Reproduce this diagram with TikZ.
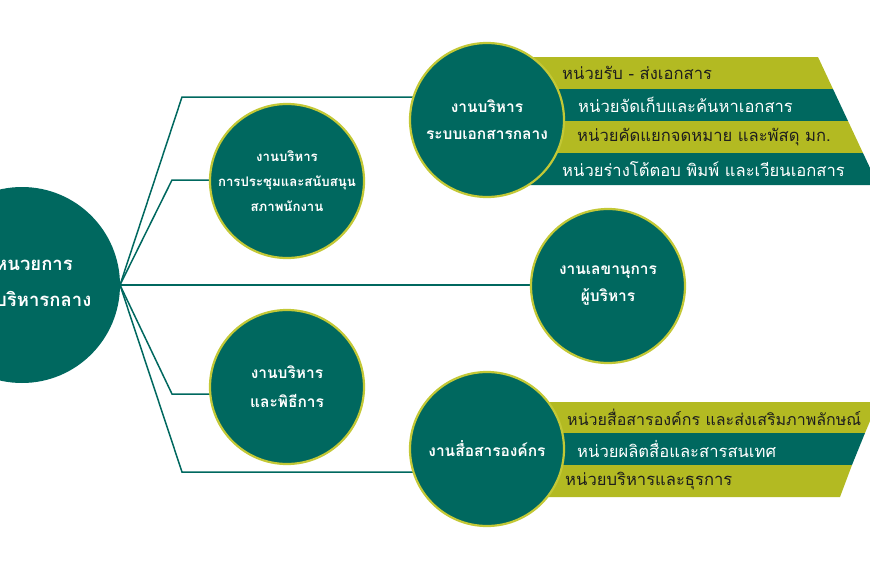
\documentclass[tikz,border=0pt]{standalone}
\usepackage{fontspec}
\newfontfamily\thai[Script=Thai]{Loma}
\definecolor{teal1}{HTML}{00685F}
\definecolor{olive1}{HTML}{B3BA22}
\definecolor{rim}{HTML}{C3C836}
\definecolor{ink}{HTML}{1E1E1E}
\begin{document}
\begin{tikzpicture}[x=1pt,y=-1pt,
  sub/.style={circle, fill=teal1, draw=rim, line width=2.2pt, minimum size=154pt, inner sep=0pt,
    text=white, align=center, font=\thai\fontsize{15.5}{27}\selectfont\bfseries},
  link/.style={draw=teal1, line width=1.5pt},
  bandO/.style={fill=olive1},
  bandT/.style={fill=teal1},
  tO/.style={anchor=west, inner sep=0pt, text=ink, font=\thai\fontsize{16.6}{18}\selectfont},
  tT/.style={anchor=west, inner sep=0pt, text=white, font=\thai\fontsize{16.6}{18}\selectfont}]
\useasboundingbox (0,0) rectangle (870,570);
\clip (0,0) rectangle (870,570);
% coordinates
\coordinate (hub) at (120,285);
\coordinate (b1) at (182,97);
\coordinate (b2) at (172,180);
\coordinate (b4) at (172,394);
\coordinate (b5) at (182,472);
\coordinate (p1) at (487,120);
\coordinate (p2) at (287,181);
\coordinate (p3) at (608,286);
\coordinate (p4) at (287,387);
\coordinate (p5) at (487,449);
% connectors
\draw[link] (hub) -- (b1) -- (b1 -| p1);
\draw[link] (hub) -- (b2) -- (b2 -| p2);
\draw[link] (hub) -- (hub -| p3);
\draw[link] (hub) -- (b4) -- (b4 -| p4);
\draw[link] (hub) -- (b5) -- (b5 -| p5);
% top bands
\fill[bandO] (487,57) -- (818,57) -- (833,89) -- (487,89) -- cycle;
\fill[bandT] (487,89) -- (833,89) -- (848,121) -- (487,121) -- cycle;
\fill[bandO] (487,121) -- (848,121) -- (863,153) -- (487,153) -- cycle;
\fill[bandT] (487,153) -- (863,153) -- (878,185) -- (487,185) -- cycle;
% bottom bands
\fill[bandO] (487,402) -- (878,402) -- (865,433) -- (487,433) -- cycle;
\fill[bandT] (487,433) -- (865,433) -- (852,465) -- (487,465) -- cycle;
\fill[bandO] (487,465) -- (852,465) -- (840,497) -- (487,497) -- cycle;
% band texts
\node[tO] (t11) at (562,73) {หน่วยรับ - ส่งเอกสาร};
\node[tT] (t12) at (578,105) {หน่วยจัดเก็บและค้นหาเอกสาร};
\node[tO] (t13) at (577,137) {หน่วยคัดแยกจดหมาย และพัสดุ มก.};
\node[tT] (t14) at (562,169) {หน่วยร่างโต้ตอบ พิมพ์ และเวียนเอกสาร};
\node[tO, font=\thai\fontsize{16}{18}\selectfont] (t51) at (567,417) {หน่วยสื่อสารองค์กร และส่งเสริมภาพลักษณ์};
\node[tT] (t52) at (577,449) {หน่วยผลิตสื่อและสารสนเทศ};
\node[tO] (t53) at (565,481) {หน่วยบริหารและธุรการ};
% circles
\node[circle, fill=teal1, minimum size=196pt, inner sep=0pt] (main) at (22,285) {};
\node[anchor=west, inner sep=0pt, text=white, align=left,
  font=\thai\fontsize{18.5}{36}\selectfont\bfseries] (mtext) at (-5,283) {หนวยการ\\บริหารกลาง};
\node[sub] (c1) at (p1) {งานบริหาร\\ระบบเอกสารกลาง};
\node[sub, font=\thai\fontsize{13.2}{25}\selectfont\bfseries] (c2) at (p2) {งานบริหาร\\การประชุมและสนับสนุน\\สภาพนักงาน};
\node[sub] (c3) at (p3) {งานเลขานุการ\\ผู้บริหาร};
\node[sub, font=\thai\fontsize{15.5}{29}\selectfont\bfseries] (c4) at (p4) {งานบริหาร\\และพิธีการ};
\node[sub] (c5) at (p5) {งานสื่อสารองค์กร};
\end{tikzpicture}
\end{document}
